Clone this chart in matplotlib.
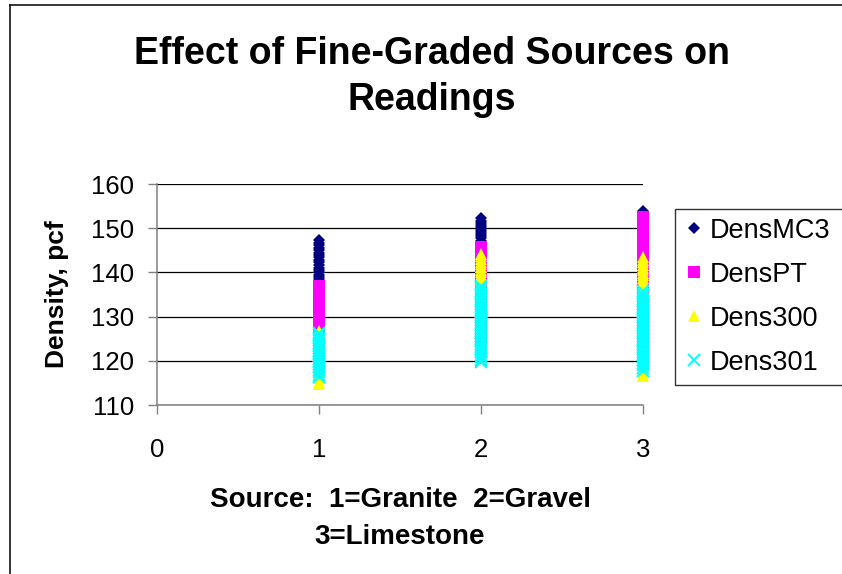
import matplotlib
matplotlib.use("Agg")
import matplotlib.pyplot as plt
from matplotlib.lines import Line2D

plt.rcParams['font.family'] = ['Liberation Sans', 'DejaVu Sans']

# ---------------- data ----------------
sources = [1, 2, 3]
x_ticks = [0, 1, 2, 3]
y_ticks = [110, 120, 130, 140, 150, 160]

mc3_granite = [147.3, 146.7, 146.2, 145.6, 145.0, 144.5, 144.0, 143.4, 142.8, 142.3,
               141.7, 141.1, 140.6, 140.0, 139.4, 138.9, 138.4]
mc3_gravel = [152.2, 151.7, 151.2, 150.7, 150.2, 149.7, 149.2, 148.7, 148.2, 147.7,
              147.2, 146.7]
mc3_limestone = [153.8, 153.0, 152.2, 151.4, 150.6, 149.8, 149.0]

pt_granite = [137.0, 136.4, 135.8, 135.2, 134.6, 134.0, 133.4, 132.8, 132.2, 131.6,
              131.0, 130.4, 129.8, 129.2, 128.6, 128.0, 127.4, 126.8, 126.0, 125.2,
              124.4, 123.6, 122.8, 122.0, 121.2]
pt_gravel = [145.8, 145.2, 144.5, 143.8, 143.1, 142.4, 141.7, 141.0, 140.3, 139.6,
             138.9, 138.2, 137.5, 136.8, 136.0, 135.2, 134.4, 133.6, 132.8, 132.0,
             131.0, 130.0, 129.0, 128.0, 127.0, 126.0, 125.0]
pt_limestone = [152.5, 151.9, 151.3, 150.7, 150.1, 149.5, 148.9, 148.3, 147.7, 147.1,
                146.5, 145.9, 145.3, 144.7, 144.1, 143.5, 142.9, 142.3, 141.7, 141.1,
                140.5, 139.9, 139.3, 138.7, 138.1, 137.5, 136.9, 136.3, 135.7, 135.0,
                134.0, 133.0, 132.0, 131.0, 130.0, 129.0, 128.0, 127.0, 126.0, 125.0,
                124.0]

d300_granite = [126.8, 126.2, 125.6, 124.8, 124.0, 123.2, 122.4, 121.6, 120.8, 120.0,
                119.2, 118.4, 117.6, 116.8, 116.0, 115.3, 114.8]
d300_gravel = [144.2, 143.6, 143.0, 142.4, 141.8, 141.2, 140.6, 140.0, 139.4, 138.8,
               138.2, 137.6, 137.0, 136.4, 135.8, 135.2, 134.6, 134.0, 133.0, 132.0,
               131.0, 130.0, 128.0]
d300_limestone = [143.5, 142.9, 142.3, 141.7, 141.1, 140.5, 139.9, 139.3, 138.7, 138.1,
                  137.5, 136.9, 136.3, 134.0, 131.0, 128.0, 125.0, 122.0, 119.0, 117.0,
                  116.5]

d301_granite = [126.4, 125.8, 125.2, 124.6, 124.0, 123.4, 122.8, 122.2, 121.6, 121.0,
                120.4, 119.8, 119.2, 118.6, 118.0, 117.4, 116.8, 116.4]
d301_gravel = [137.0, 136.4, 135.8, 135.2, 134.6, 134.0, 133.4, 132.8, 132.2, 131.6,
               131.0, 130.4, 129.8, 129.2, 128.6, 128.0, 127.4, 126.8, 126.2, 125.6,
               125.0, 124.4, 123.8, 123.2, 122.6, 122.0, 121.4, 120.8, 120.2, 119.8]
d301_limestone = [135.8, 135.2, 134.6, 134.0, 133.4, 132.8, 132.2, 131.6, 131.0, 130.4,
                  129.8, 129.2, 128.6, 128.0, 127.4, 126.8, 126.2, 125.6, 125.0, 124.4,
                  123.8, 123.2, 122.6, 122.0, 121.4, 120.8, 120.2, 119.6, 119.0, 118.4,
                  117.7]

series_names = ["DensMC3", "DensPT", "Dens300", "Dens301"]
series_values = [
    [mc3_granite, mc3_gravel, mc3_limestone],
    [pt_granite, pt_gravel, pt_limestone],
    [d300_granite, d300_gravel, d300_limestone],
    [d301_granite, d301_gravel, d301_limestone],
]

# ---------------- styles ----------------
styles = [
    dict(marker='D', color='#000080', markersize=6.2, markeredgewidth=0),
    dict(marker='s', color='#FF00FF', markersize=8.6, markeredgewidth=0),
    dict(marker='^', color='#FFFF00', markersize=9.0, markeredgewidth=0),
    dict(marker='x', color='#00FFFF', markersize=8.6, markeredgewidth=1.4),
]

W, H = 842, 574
fig = plt.figure(figsize=(W / 100, H / 100), dpi=100)
fig.patch.set_facecolor('white')

# outer chart border (only top and left edges are inside the crop)
bx, by = 9.5 / W, 1 - 5 / H
fig.add_artist(Line2D([bx, bx], [0, by], transform=fig.transFigure,
                      color='black', linewidth=1.1))
fig.add_artist(Line2D([bx, 1], [by, by], transform=fig.transFigure,
                      color='black', linewidth=1.1))

ax_l, ax_r = 157 / W, 643 / W
ax_b, ax_t = 1 - 405 / H, 1 - 184 / H
ax = fig.add_axes([ax_l, ax_b, ax_r - ax_l, ax_t - ax_b])

for name, vals, st in zip(series_names, series_values, styles):
    xs, ys = [], []
    for src, v in zip(sources, vals):
        xs += [src] * len(v)
        ys += v
    ax.plot(xs, ys, linestyle='none', label=name, clip_on=False, **st)

ax.set_xlim(0, 3)
ax.set_ylim(110, 160)
ax.set_xticks(x_ticks)
ax.set_yticks(y_ticks)
ax.tick_params(axis='both', labelsize=18.5, direction='out', length=6.5,
               width=1.0, color='#808080')
ax.tick_params(axis='y', pad=10)
ax.tick_params(axis='x', pad=17)

for s in ['top', 'right']:
    ax.spines[s].set_visible(False)
for s in ['left', 'bottom']:
    ax.spines[s].set_color('#808080')
    ax.spines[s].set_linewidth(1.1)

ax.yaxis.grid(True, color='black', linewidth=0.9)
ax.set_axisbelow(True)

ax.set_ylabel('Density, pcf', fontsize=19, fontweight='bold', labelpad=16)
ax.set_xlabel('Source:  1=Granite  2=Gravel\n3=Limestone', fontsize=20,
              fontweight='bold', labelpad=18, linespacing=1.55)

fig.text(432 / W, 1 - 36 / H, 'Effect of Fine-Graded Sources on\nReadings',
         ha='center', va='top', fontsize=27, fontweight='bold', linespacing=1.36)

leg = ax.legend(loc='upper left',
                bbox_to_anchor=(675 / W, 1 - 380 / H, 200 / W, 171 / H),
                bbox_transform=fig.transFigure, mode='expand', borderaxespad=0,
                frameon=True, fancybox=False, fontsize=19.5, borderpad=0.33,
                labelspacing=0.66, handlelength=0.75, handletextpad=0.2)
leg.get_frame().set_edgecolor('black')
leg.get_frame().set_linewidth(1.0)

fig.savefig('out.png', dpi=100)
